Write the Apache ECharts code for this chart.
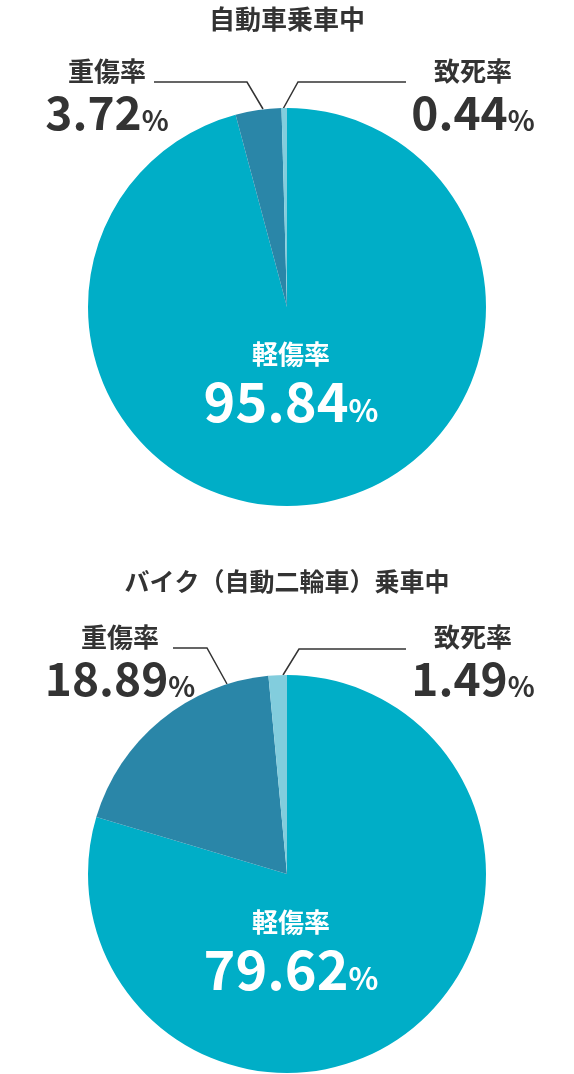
<!DOCTYPE html>
<html><head><meta charset="utf-8">
<script src="https://cdn.jsdelivr.net/npm/echarts@6/dist/echarts.min.js"></script>
<style>html,body{margin:0;padding:0;background:#fff}#c{width:574px;height:1074px}</style>
</head><body><div id="c"></div>
<script>
const chartTitles = ['自動車乗車中', 'バイク（自動二輪車）乗車中'];
const categories = ['軽傷率', '重傷率', '致死率'];
const carValues = [95.84, 3.72, 0.44];
const bikeValues = [79.62, 18.89, 1.49];
const sliceColors = ['#00aec7', '#2a86a8', '#82cddd'];

const FONT = '"Noto Sans CJK JP", "Noto Sans", sans-serif';
const DARK = '#333333';

// label placement per series: dataIndex -> label anchor + leader line
const labelPlaces = [
  {
    0: { x: 291, y: 336 },
    1: { x: 107, y: 55, pts: [[263, 109], [247, 82], [154, 82]] },
    2: { x: 473, y: 55, pts: [[283, 109], [298, 82], [406, 82]] }
  },
  {
    0: { x: 291, y: 904 },
    1: { x: 120, y: 621, pts: [[227, 684], [207, 648], [173, 648]] },
    2: { x: 473, y: 621, pts: [[283, 675], [299, 649], [406, 649]] }
  }
];

const outerLabel = {
  show: true,
  position: 'outside',
  formatter: '{n|{b}}\n{v|{c}}{p|%}',
  rich: {
    n: { fontFamily: FONT, fontSize: 26, fontWeight: 'bold', color: DARK, lineHeight: 33, align: 'center' },
    v: { fontFamily: FONT, fontSize: 46, fontWeight: 'bold', color: DARK, lineHeight: 48, verticalAlign: 'bottom', align: 'center' },
    p: { fontFamily: FONT, fontSize: 28, fontWeight: 'bold', color: DARK, lineHeight: 48, verticalAlign: 'bottom', padding: [0, 0, 2, 0], align: 'center' }
  }
};
const innerLabel = {
  show: true,
  position: 'inside',
  formatter: '{n|{b}}\n{v|{c}}{p|%}',
  rich: {
    n: { fontFamily: FONT, fontSize: 26, fontWeight: 'bold', color: '#fff', lineHeight: 36, align: 'center' },
    v: { fontFamily: FONT, fontSize: 54, fontWeight: 'bold', color: '#fff', lineHeight: 56, verticalAlign: 'bottom', align: 'center' },
    p: { fontFamily: FONT, fontSize: 31, fontWeight: 'bold', color: '#fff', lineHeight: 56, verticalAlign: 'bottom', padding: [0, 0, 2, 0], align: 'center' }
  }
};

function buildData(values) {
  return categories.map((name, i) => ({
    name: name,
    value: values[i],
    itemStyle: { color: sliceColors[i] },
    label: i === 0 ? innerLabel : outerLabel,
    labelLine: { show: i !== 0 }
  }));
}

function makeSeries(values, idx, center) {
  return {
    type: 'pie',
    radius: 199,
    center: center,
    startAngle: 90,
    clockwise: true,
    avoidLabelOverlap: false,
    minShowLabelAngle: 0,
    silent: true,
    animation: false,
    itemStyle: { borderWidth: 0 },
    labelLine: { show: true, length: 10, length2: 10, smooth: false, lineStyle: { color: DARK, width: 1.5 } },
    labelLayout: function (p) {
      const place = labelPlaces[idx][p.dataIndex];
      const out = { x: place.x, y: place.y, align: 'center', verticalAlign: 'top' };
      if (place.pts) out.labelLinePoints = place.pts;
      return out;
    },
    data: buildData(values)
  };
}

const chart = echarts.init(document.getElementById('c'), null, { renderer: 'canvas' });
chart.setOption({
  backgroundColor: '#fff',
  animation: false,
  textStyle: { fontFamily: FONT },
  title: [
    { text: chartTitles[0], left: 'center', top: 1, textStyle: { fontFamily: FONT, fontSize: 26, fontWeight: 'bold', color: DARK } },
    { text: chartTitles[1], left: 'center', top: 564, textStyle: { fontFamily: FONT, fontSize: 25, fontWeight: 'bold', color: DARK } }
  ],
  series: [
    makeSeries(carValues, 0, [287, 307]),
    makeSeries(bikeValues, 1, [287, 874])
  ]
});
</script>
</body></html>
